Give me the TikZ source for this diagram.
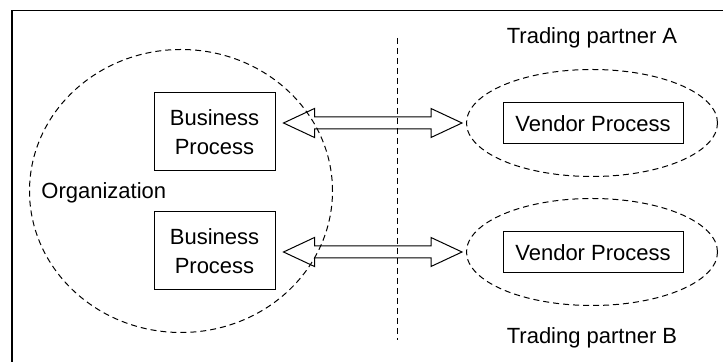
\documentclass[tikz,border=0pt]{standalone}
\usepackage{fontspec}
\setmainfont{Liberation Sans}
\usetikzlibrary{shapes.geometric,calc}

\tikzset{
  procbox/.style={draw, line width=0.5pt, align=center, inner sep=0pt},
  grouping/.style={draw, ellipse, dash pattern=on 3pt off 2pt, line width=0.5pt, inner sep=0pt},
  hollowarrow/.style={draw, line width=0.5pt, line join=miter},
}

\begin{document}
\begin{tikzpicture}[x=0.5pt, y=-0.5pt, font=\fontsize{11}{14.5}\selectfont]
    \useasboundingbox (0,0) rectangle (723,362);
    % frame
    \draw [line width=0.8pt] (12,362) -- (12,10.5) -- (723,10.5);
    % organization
    \node [grouping, minimum width=151.5pt, minimum height=141.5pt] (org) at (181,191) {};
    \node [anchor=west, inner sep=0pt] (orglabel) at (41,193) {Organization};
    \node [procbox, minimum width=60.5pt, minimum height=39pt] (bp1) at (214.5,132) {Business\\Process};
    \node [procbox, minimum width=60.5pt, minimum height=39pt] (bp2) at (214.5,251) {Business\\Process};
    % divider
    \draw [dash pattern=on 3pt off 2pt, line width=0.5pt] (397,38) coordinate (divtop) -- (397,340) coordinate (divbot);
    % partner A
    \node (tpa) at (592,38) {Trading partner A};
    \node [grouping, minimum width=125.5pt, minimum height=53.5pt] (ring1) at (592,123) {};
    \node [procbox, minimum width=90pt, minimum height=20.5pt] (ven1) at (593,123.5) {Vendor Process};
    % partner B
    \node [grouping, minimum width=125.5pt, minimum height=53.5pt] (ring2) at (592,252) {};
    \node [procbox, minimum width=90pt, minimum height=20.5pt] (ven2) at (593,252.5) {Vendor Process};
    \node (tpb) at (592,338) {Trading partner B};
    % exchange arrows
    \foreach \b/\r in {bp1/ring1, bp2/ring2} {
      \coordinate (l) at ($(\b.east |- \r.west)+(8,0)$);
      \coordinate (r) at ($(\r.west)+(-4,0)$);
      \draw [hollowarrow] (l) -- ++(31,-14.5) -- ++(0,8.5) -- ($(r)+(-31,-6)$) -- ++(0,-8.5)
        -- (r) -- ++(-31,14.5) -- ++(0,-8.5) -- ($(l)+(31,6)$) -- ++(0,8.5) -- cycle;
    }
\end{tikzpicture}
\end{document}
